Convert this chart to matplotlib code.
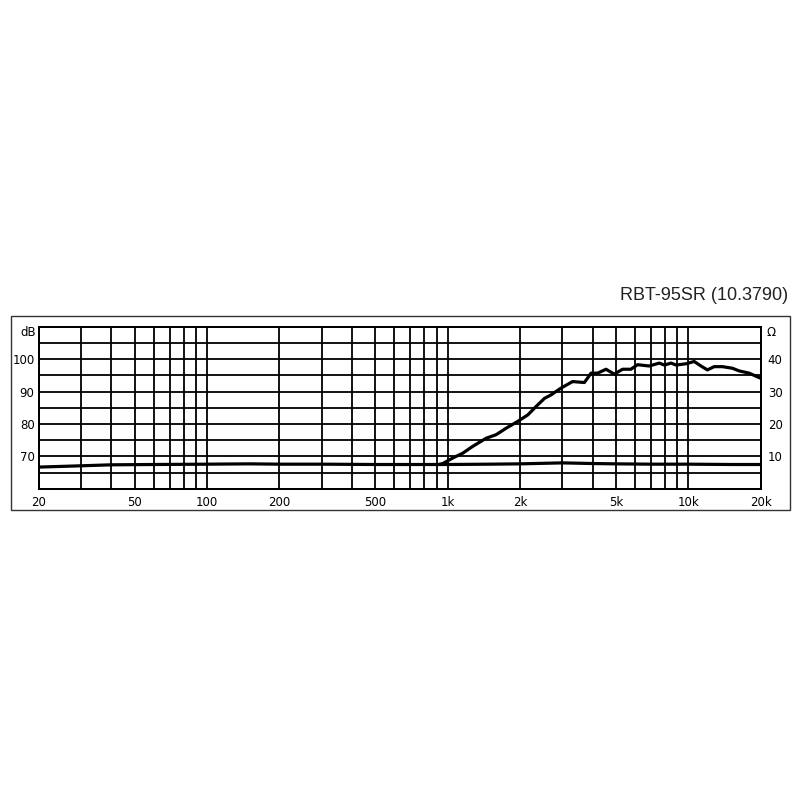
import matplotlib
matplotlib.use("Agg")
import matplotlib.pyplot as plt
from matplotlib.patches import Rectangle
from matplotlib.ticker import FixedLocator, NullFormatter

# frequency response (dB)
fr_freq = [930, 955, 1050, 1156, 1271, 1445, 1590, 1750, 1955, 2152, 2330, 2524,
           2690, 2960, 3305, 3698, 3944, 4200, 4550, 4925, 5330, 5770, 6150, 6880,
           7570, 7950, 8470, 8900, 9800, 10570, 11450, 12000, 12800, 13860, 15250,
           16240, 17870, 20000]
fr_db = [67.6, 67.8, 69.5, 71.0, 73.1, 75.6, 76.7, 78.7, 80.8, 82.8, 85.4, 87.9,
         89.0, 91.1, 93.1, 92.8, 95.7, 95.7, 96.9, 95.4, 96.9, 96.9, 98.3, 97.9,
         98.8, 98.2, 98.8, 98.2, 98.6, 99.3, 97.6, 96.7, 97.7, 97.7, 97.2,
         96.4, 95.7, 94.1]

# impedance (ohm)
z_freq = [20, 30, 40, 60, 100, 150, 200, 300, 500, 700, 1000, 1500, 2000, 3000,
          4000, 5000, 7000, 10000, 15000, 20000]
z_ohm = [6.7, 7.1, 7.4, 7.5, 7.6, 7.7, 7.6, 7.6, 7.5, 7.5, 7.5, 7.6, 7.7, 8.0,
         7.8, 7.7, 7.6, 7.6, 7.5, 7.5]

x_labels = {20: "20", 50: "50", 100: "100", 200: "200", 500: "500",
            1000: "1k", 2000: "2k", 5000: "5k", 10000: "10k", 20000: "20k"}
db_ticks = [70, 80, 90, 100]
ohm_ticks = [10, 20, 30, 40]
title = "RBT-95SR (10.3790)"

grid_x = [m * 10 ** e for e in range(1, 5) for m in range(1, 10)]
grid_x = [g for g in grid_x if 20 <= g <= 20000]

fig = plt.figure(figsize=(8, 8), dpi=100)
fig.patches.append(Rectangle((0.0134, 0.3625), 0.974, 0.243, transform=fig.transFigure,
                             fill=False, edgecolor="#333333", linewidth=1.0))
fig.text(0.985, 0.631, title, ha="right", va="center", fontsize=13,
         family="Liberation Sans", color="#222222")

ax = fig.add_axes([0.0484, 0.389, 0.9026, 0.2025])
ax.set_xscale("log")
ax.set_xlim(20, 20000)
ax.set_ylim(60, 110)

lw_grid = 1.3
for g in grid_x:
    ax.axvline(g, color="black", linewidth=lw_grid, zorder=1)
for h in range(60, 111, 5):
    ax.axhline(h, color="black", linewidth=lw_grid, zorder=1)
for s in ax.spines.values():
    s.set_linewidth(lw_grid)

ax.plot(fr_freq, fr_db, color="black", linewidth=2.3, zorder=3, solid_joinstyle="round")

ax.xaxis.set_major_locator(FixedLocator(list(x_labels.keys())))
ax.set_xticklabels(list(x_labels.values()))
ax.xaxis.set_minor_formatter(NullFormatter())
ax.xaxis.set_minor_locator(FixedLocator([]))
ax.set_yticks(db_ticks)
ax.tick_params(length=0, labelsize=8.5, pad=3)
ax.tick_params(axis="x", pad=5)
ax.text(-0.004, 108.3, "dB", transform=ax.get_yaxis_transform(), ha="right",
        va="center", fontsize=8.5)

ax2 = ax.twinx()
ax2.set_ylim(0, 50)
ax2.plot(z_freq, z_ohm, color="black", linewidth=2.3, zorder=3)
ax2.set_yticks(ohm_ticks)
ax2.tick_params(length=0, labelsize=8.5, pad=5)
for s in ax2.spines.values():
    s.set_linewidth(lw_grid)
ax2.text(1.008, 48.3, "Ω", transform=ax2.get_yaxis_transform(), ha="left",
         va="center", fontsize=8.5)

fig.savefig("out.png", dpi=100)
